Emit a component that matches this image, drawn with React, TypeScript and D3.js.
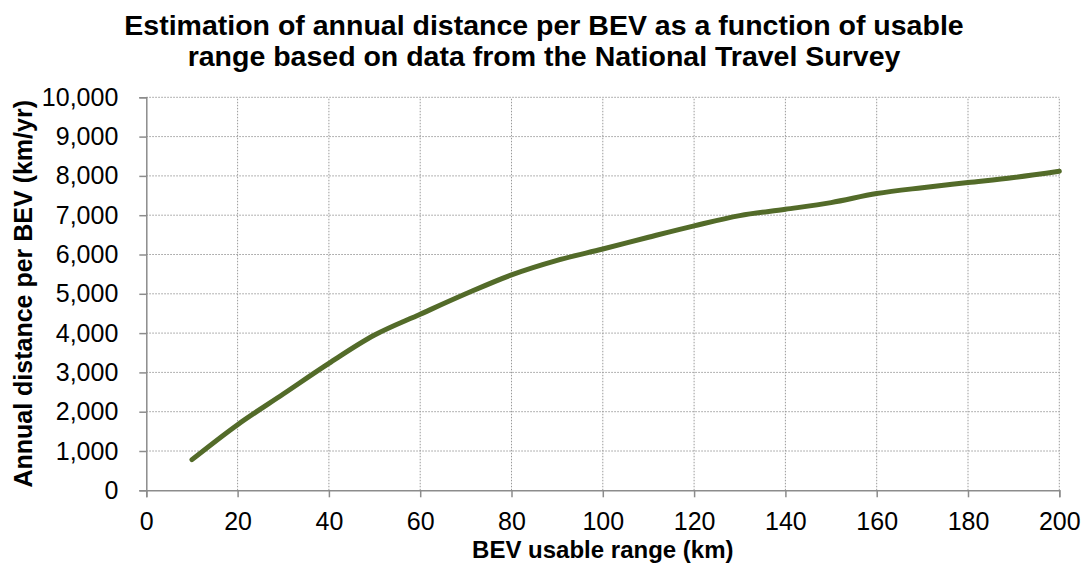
import React, { useEffect, useRef } from 'react';
import * as d3 from 'd3';

// range (km) and estimated annual distance (km/yr)
const rangeKm = [10, 20, 30, 40, 50, 60, 70, 80, 90, 100, 110, 120, 130, 140, 150, 160, 170, 180, 190, 200];
const annualKm = [780, 1670, 2450, 3230, 3950, 4480, 5000, 5480, 5850, 6140, 6440, 6730, 6990, 7150, 7320, 7550, 7700, 7830, 7960, 8120];

const xTicks = [0, 20, 40, 60, 80, 100, 120, 140, 160, 180, 200];
const yTicks = [0, 1000, 2000, 3000, 4000, 5000, 6000, 7000, 8000, 9000, 10000];

const titleLines = [
  'Estimation of annual distance per BEV as a function of usable',
  'range based on data from the National Travel Survey'
];

const W = 1083;
const H = 569;
const FONT = '"Liberation Sans", Arial, sans-serif';

export default function App() {
  const ref = useRef<SVGSVGElement>(null);

  useEffect(() => {
    if (!ref.current) return;
    const svg = d3.select(ref.current);
    svg.selectAll('*').remove();

    const margin = { top: 97.3, right: 1083 - 1059.3, bottom: 569 - 490.3, left: 146.3 };

    const x = d3.scaleLinear()
      .domain([0, 200])
      .range([margin.left, W - margin.right]);

    const y = d3.scaleLinear()
      .domain([0, 10000])
      .range([H - margin.bottom, margin.top]);

    // Gridlines (dotted)
    const grid = svg.append('g');
    grid.selectAll('line.h')
      .data(yTicks.filter(d => d > 0))
      .join('line')
      .attr('class', 'h')
      .attr('x1', x(0))
      .attr('x2', x(200))
      .attr('y1', d => y(d))
      .attr('y2', d => y(d))
      .attr('stroke', '#9a9a9a')
      .attr('stroke-width', 1)
      .attr('stroke-dasharray', '1.5,1.5');

    grid.selectAll('line.v')
      .data(xTicks.filter(d => d > 0))
      .join('line')
      .attr('class', 'v')
      .attr('x1', d => x(d))
      .attr('x2', d => x(d))
      .attr('y1', y(0))
      .attr('y2', y(10000))
      .attr('stroke', '#9a9a9a')
      .attr('stroke-width', 1)
      .attr('stroke-dasharray', '1.5,1.5');

    // Axes
    const xAxis = svg.append('g')
      .attr('transform', `translate(0,${y(0)})`)
      .call(d3.axisBottom(x).tickValues(xTicks).tickSize(7).tickPadding(15).tickFormat(d3.format('d')));

    const yAxis = svg.append('g')
      .attr('transform', `translate(${x(0)},0)`)
      .call(d3.axisLeft(y).tickValues(yTicks).tickSize(7).tickPadding(21).tickFormat(d3.format(',')));

    [xAxis, yAxis].forEach(ax => {
      ax.select('.domain').attr('stroke', '#8c8c8c').attr('stroke-width', 1.5);
      ax.selectAll('.tick line').attr('stroke', '#8c8c8c').attr('stroke-width', 1.5);
      ax.selectAll('.tick text')
        .attr('fill', '#000')
        .attr('font-family', FONT)
        .attr('font-size', '25px');
    });
    xAxis.selectAll('.tick text').attr('dy', '0.72em');

    // Line
    const data = rangeKm.map((r, i) => ({ r, v: annualKm[i] }));
    const line = d3.line<typeof data[0]>()
      .x(d => x(d.r))
      .y(d => y(d.v))
      .curve(d3.curveCatmullRom.alpha(0.5));

    svg.append('path')
      .datum(data)
      .attr('fill', 'none')
      .attr('stroke', '#536b29')
      .attr('stroke-width', 5)
      .attr('stroke-linecap', 'round')
      .attr('d', line);

    // Title
    svg.append('text')
      .attr('x', 544)
      .attr('y', 35)
      .attr('text-anchor', 'middle')
      .attr('font-family', FONT)
      .attr('font-weight', 'bold')
      .attr('font-size', '28.5px')
      .selectAll('tspan')
      .data(titleLines)
      .join('tspan')
      .attr('x', 544)
      .attr('dy', (_, i) => (i === 0 ? 0 : 31))
      .text(d => d);

    // Axis titles
    svg.append('text')
      .attr('x', (x(0) + x(200)) / 2)
      .attr('y', 558)
      .attr('text-anchor', 'middle')
      .attr('font-family', FONT)
      .attr('font-weight', 'bold')
      .attr('font-size', '24px')
      .text('BEV usable range (km)');

    svg.append('text')
      .attr('transform', `translate(32,${(y(0) + y(10000)) / 2}) rotate(-90)`)
      .attr('text-anchor', 'middle')
      .attr('font-family', FONT)
      .attr('font-weight', 'bold')
      .attr('font-size', '25px')
      .text('Annual distance per BEV (km/yr)');
  }, []);

  return (
    <svg
      ref={ref}
      width={W}
      height={H}
      style={{ position: 'absolute', left: 0, top: 0, background: '#fff' }}
    />
  );
}
